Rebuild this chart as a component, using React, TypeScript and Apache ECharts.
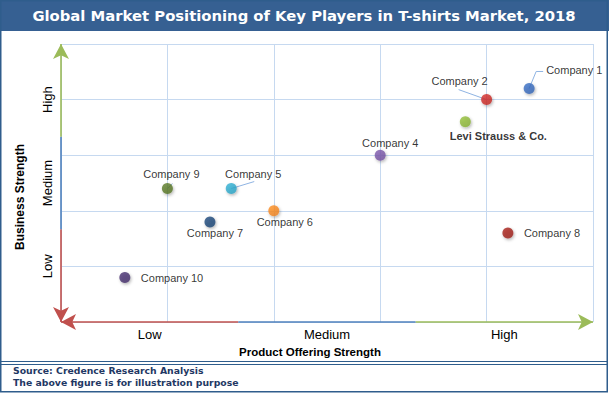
import React, { useEffect, useRef } from "react";
import * as echarts from "echarts";

const companies = [
  "Company 1",
  "Company 2",
  "Levi Strauss & Co.",
  "Company 4",
  "Company 5",
  "Company 6",
  "Company 7",
  "Company 8",
  "Company 9",
  "Company 10",
];
const productOffering = [4.4, 4.0, 3.8, 3.0, 1.6, 2.0, 1.4, 4.2, 1.0, 0.6];
const businessStrength = [4.2, 4.0, 3.6, 3.0, 2.4, 2.0, 1.8, 1.6, 2.4, 0.8];
const xTickLabels = ["Low", "Medium", "High"];
const yTickLabels = ["Low", "Medium", "High"];
const yTickValues = [1, 2.5, 4];

const pointColors = [
  "#3566b5",
  "#c42a27",
  "#88b035",
  "#7452a0",
  "#2ca3c4",
  "#ef8320",
  "#1c4473",
  "#9c201b",
  "#567427",
  "#432d69",
];

const labelPlacement = [
  { pos: "right", dx: 6.5, dy: -18 },
  { pos: "top", dx: -27, dy: -3 },
  { pos: "bottom", dx: 33, dy: -2, bold: true },
  { pos: "top", dx: 10, dy: 3.5 },
  { pos: "top", dx: 22, dy: 1.5 },
  { pos: "bottom", dx: 11, dy: -4.5 },
  { pos: "bottom", dx: 5, dy: -4.5 },
  { pos: "right", dx: 5.5, dy: 0 },
  { pos: "top", dx: 4, dy: 1.5 },
  { pos: "right", dx: 5.5, dy: 0 },
];

// leader-line bends, in pixels relative to the point (null = no leader)
const leaderOffsets: (number[][] | null)[] = [
  [[0, 0], [7, -17], [14, -17]],
  [[0, 0], [-28, -10]],
  null,
  null,
  [[0, 0], [23, -7]],
  null,
  null,
  null,
  [[0, 0], [5, -5]],
  null,
];

const RED = "#c0504d";
const BLUE = "#4f81bd";
const GREEN = "#9bbb59";
const GRID = "#c6d9f0";
const FONT = "Liberation Sans";

export default function App() {
  const ref = useRef<HTMLDivElement>(null);

  useEffect(() => {
    if (!ref.current) return;
    const chart = echarts.init(ref.current, undefined, { renderer: "svg" });

    const data = companies.map((name, i) => {
      const c = pointColors[i];
      const p = labelPlacement[i];
      return {
        name,
        value: [productOffering[i], businessStrength[i]],
        itemStyle: {
          color: new echarts.graphic.RadialGradient(0.35, 0.3, 0.7, [
            { offset: 0, color: echarts.color.lift(c, -0.1) },
            { offset: 1, color: c },
          ]),
        },
        label: {
          position: p.pos,
          distance: 5,
          fontWeight: p.bold ? "bold" : "normal",
        },
      };
    });

    const third = 5 / 3;
    const seg = (a: number[], b: number[], color: string, arrow: boolean) => [
      { coord: a, symbol: "none", lineStyle: { color, width: 1.6, type: "solid" } },
      { coord: b, symbol: arrow ? "arrow" : "none", symbolSize: [12, 15] },
    ];

    const baseGraphics: any[] = [
      {
        type: "rect",
        shape: { x: 0, y: 0, width: 609, height: 31 },
        style: { fill: "#366092" },
        silent: true,
      },
      {
        type: "text",
        x: 304,
        y: 15,
        style: {
          text: "Global Market Positioning of Key Players in T-shirts Market, 2018",
          fill: "#fff",
          font: "bold 14.8px 'DejaVu Sans'",
          align: "center",
          verticalAlign: "middle",
        },
        silent: true,
      },
      {
        type: "rect",
        shape: { x: 0.75, y: 0.75, width: 606.5, height: 391 },
        style: { fill: "none", stroke: "#2f5d8c", lineWidth: 1.5 },
        silent: true,
      },
      {
        type: "line",
        shape: { x1: 0, y1: 361.5, x2: 608, y2: 361.5 },
        style: { stroke: "#2f5d8c", lineWidth: 1.2 },
        silent: true,
      },
      {
        type: "line",
        shape: { x1: 0, y1: 364.5, x2: 608, y2: 364.5 },
        style: { stroke: "#2f5d8c", lineWidth: 1 },
        silent: true,
      },
      {
        type: "text",
        x: 13,
        y: 370,
        style: {
          text: "Source: Credence Research Analysis",
          fill: "#1f3864",
          font: "bold 9.3px 'DejaVu Sans'",
          verticalAlign: "middle",
        },
        silent: true,
      },
      {
        type: "text",
        x: 13,
        y: 382,
        style: {
          text: "The above figure is for illustration purpose",
          fill: "#1f3864",
          font: "bold 9.3px 'DejaVu Sans'",
          verticalAlign: "middle",
        },
        silent: true,
      },
    ];

    chart.setOption({
      animation: false,
      grid: { left: 61, right: 16, top: 44, bottom: 71, containLabel: false },
      xAxis: [
        {
          type: "value",
          position: "top",
          min: 0,
          max: 5,
          interval: 1,
          axisLine: { show: false },
          axisTick: { show: false },
          axisLabel: { show: false },
          splitLine: { show: true, lineStyle: { color: GRID, width: 1 } },
        },
        {
          type: "category",
          position: "bottom",
          data: xTickLabels,
          boundaryGap: true,
          axisLine: { show: false },
          axisTick: { show: false },
          splitLine: { show: false },
          axisLabel: { color: "#000", fontSize: 13, fontFamily: FONT, margin: 6 },
          name: "Product Offering Strength",
          nameLocation: "middle",
          nameGap: 24,
          nameTextStyle: {
            color: "#000",
            fontWeight: "bold",
            fontSize: 11.5,
            fontFamily: FONT,
            padding: [0, 34, 0, 0],
          },
        },
      ],
      yAxis: [
        {
          type: "value",
          position: "right",
          min: 0,
          max: 5,
          interval: 1,
          axisLine: { show: false },
          axisTick: { show: false },
          axisLabel: { show: false },
          splitLine: { show: true, lineStyle: { color: GRID, width: 1 } },
        },
        {
          type: "value",
          position: "left",
          min: 0,
          max: 5,
          interval: 0.5,
          axisLine: { show: false },
          axisTick: { show: false },
          splitLine: { show: false },
          axisLabel: {
            rotate: 90,
            color: "#000",
            fontSize: 13,
            fontFamily: FONT,
            margin: 7,
            formatter: (v: number) => {
              const k = yTickValues.indexOf(v);
              return k >= 0 ? yTickLabels[k] : "";
            },
          },
          name: "Business Strength",
          nameLocation: "middle",
          nameGap: 35,
          nameTextStyle: {
            color: "#000",
            fontWeight: "bold",
            fontSize: 12,
            fontFamily: FONT,
            padding: [0, 28, 0, 0],
          },
        },
      ],
      series: [
        {
          type: "scatter",
          xAxisIndex: 0,
          yAxisIndex: 0,
          clip: false,
          z: 3,
          symbol: "circle",
          symbolSize: 11,
          itemStyle: {
            shadowBlur: 3,
            shadowColor: "rgba(0,0,0,0.35)",
            shadowOffsetX: 1,
            shadowOffsetY: 1.5,
          },
          label: {
            show: true,
            formatter: "{b}",
            color: "#000",
            fontSize: 11,
            fontFamily: FONT,
          },
          labelLayout: (params: any) => {
            const p = labelPlacement[params.dataIndex];
            return { dx: p.dx, dy: p.dy };
          },
          data,
          markLine: {
            silent: true,
            animation: false,
            label: { show: false },
            symbol: ["none", "none"],
            data: [
              seg([third, 0], [0, 0], RED, true),
              seg([third, 0], [2 * third, 0], BLUE, false),
              seg([2 * third, 0], [5, 0], GREEN, true),
              seg([0, third], [0, 0], RED, true),
              seg([0, third], [0, 2 * third], BLUE, false),
              seg([0, 2 * third], [0, 5], GREEN, true),
            ],
          },
        },
      ],
      graphic: baseGraphics,
    });

    const leaders: any[] = [];
    companies.forEach((_, i) => {
      const off = leaderOffsets[i];
      if (!off) return;
      const px = chart.convertToPixel({ xAxisIndex: 0, yAxisIndex: 0 }, [
        productOffering[i],
        businessStrength[i],
      ]) as number[];
      leaders.push({
        type: "polyline",
        z: 1,
        shape: { points: off.map((o) => [px[0] + o[0], px[1] + o[1]]) },
        style: { stroke: "#8fb4e3", lineWidth: 1, fill: "none" },
        silent: true,
      });
    });
    chart.setOption({ graphic: [...baseGraphics, ...leaders] });

    return () => chart.dispose();
  }, []);

  return (
    <div
      ref={ref}
      style={{ position: "fixed", left: 0, top: 0, width: 609, height: 393, background: "#fff" }}
    />
  );
}
